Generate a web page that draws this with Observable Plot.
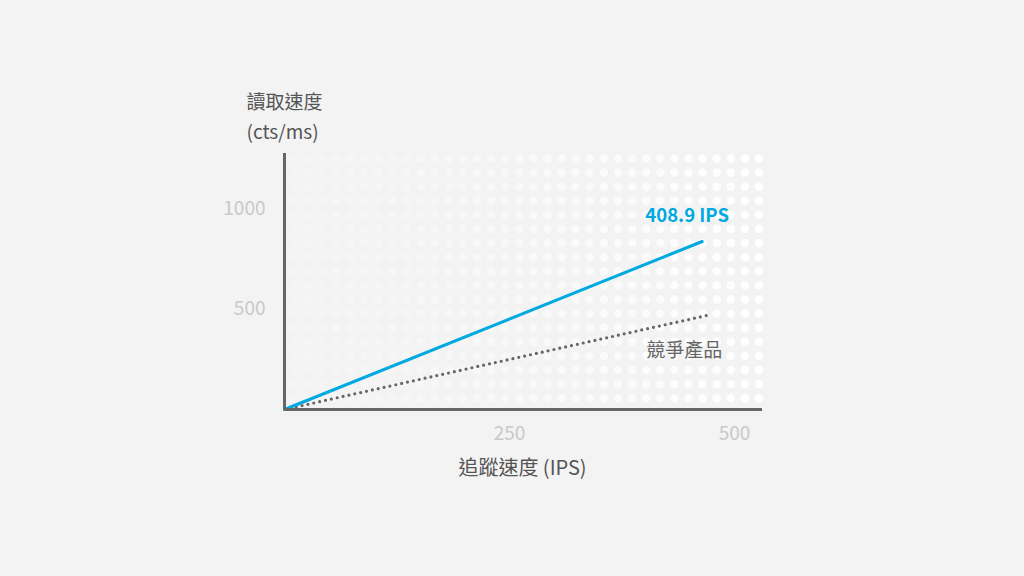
<!DOCTYPE html>
<html>
<head>
<meta charset="utf-8">
<script src="https://cdn.jsdelivr.net/npm/d3@7"></script>
<script src="https://cdn.jsdelivr.net/npm/@observablehq/plot@0.6"></script>
<style>
  html, body { margin: 0; padding: 0; background: #f3f3f3; }
  #chart svg { display: block; }
</style>
</head>
<body>
<div id="chart"></div>
<script>
// ---- data ----
const seriesNames = ["408.9 IPS", "競爭產品"];
const trackingSpeed = [0, 464];          // IPS (x)
const ourReadSpeed = [0, 840];            // cts/ms (y) - highlighted product
const competitorTracking = [0, 474];
const competitorReadSpeed = [0, 475];
const xTicks = [250, 500];
const yTicks = [500, 1000];
const xDomain = [0, 531];
const yDomain = [0, 1280];
const yTitle = ["讀取速度", "(cts/ms)"];
const xTitle = "追蹤速度 (IPS)";

// decorative dot texture (in data units)
const gridCols = d3.range(34).map(i => 10.3 + i * 15.66);
const gridRows = d3.range(18).map(j => 1255 - j * 70.5);

const ours = trackingSpeed.map((x, i) => ({x, y: ourReadSpeed[i]}));
const comp = competitorTracking.map((x, i) => ({x, y: competitorReadSpeed[i]}));
const grid = d3.cross(gridCols, gridRows).map(([x, y]) => ({x, y}));

const font = "'Noto Sans CJK TC', 'Noto Sans', sans-serif";

const chart = Plot.plot({
  width: 1024,
  height: 576,
  marginLeft: 284,
  marginRight: 262,
  marginTop: 153,
  marginBottom: 167,
  style: {background: "#f3f3f3", fontFamily: font, overflow: "visible"},
  x: {domain: xDomain},
  y: {domain: yDomain},
  marks: [
    Plot.dot(grid, {
      x: "x", y: "y", r: 4.2, fill: "#ffffff", stroke: null,
      fillOpacity: d => 0.22 + 0.78 * (d.x / xDomain[1]) ** 1.6
    }),
    Plot.axisX(xTicks, {
      tickSize: 0, tickPadding: 17, fontSize: 19, fill: "#c9c9c9", label: null,
      tickFormat: d => String(d)
    }),
    Plot.axisY(yTicks, {
      tickSize: 0, tickPadding: 19, fontSize: 19, fill: "#c9c9c9", label: null,
      tickFormat: d => String(d), dy: -1
    }),
    Plot.line(comp, {
      x: "x", y: "y", stroke: "#666666", strokeWidth: 3.2,
      strokeDasharray: "0 6", strokeLinecap: "round"
    }),
    Plot.line(ours, {
      x: "x", y: "y", stroke: "#00a9e0", strokeWidth: 3
    }),
    Plot.ruleX([0], {stroke: "#666666", strokeWidth: 3}),
    Plot.ruleY([0], {stroke: "#666666", strokeWidth: 3}),
    Plot.text([ours[ours.length - 1]], {
      x: "x", y: "y", text: () => seriesNames[0], dx: -15, dy: -25,
      fill: "#00a9e0", fontSize: 18.5, fontWeight: "bold", textAnchor: "middle"
    }),
    Plot.text([comp[comp.length - 1]], {
      x: "x", y: "y", text: () => seriesNames[1], dx: -27, dy: 36,
      fill: "#666666", fontSize: 19, textAnchor: "middle"
    }),
    Plot.text([yTitle.join("\n")], {
      frameAnchor: "top-left", text: d => d, dx: -38, dy: -66,
      fill: "#555555", fontSize: 19, textAnchor: "start", lineHeight: 1.58, lineAnchor: "top"
    }),
    Plot.text([xTitle], {
      frameAnchor: "bottom", text: d => d, dx: -1, dy: 65,
      fill: "#555555", fontSize: 20, textAnchor: "middle"
    })
  ]
});
document.getElementById("chart").append(chart);
</script>
</body>
</html>
